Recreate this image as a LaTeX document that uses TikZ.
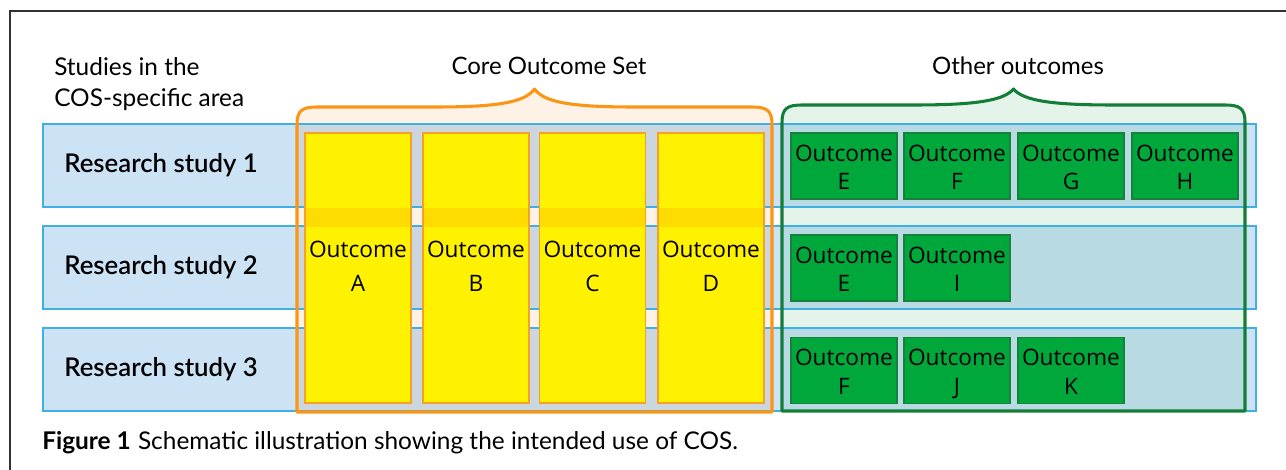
\documentclass[tikz,border=0pt]{standalone}
\usepackage{fontspec}
\setmainfont{Lato}
\newfontfamily\ofont{Open Sans}
\newfontfamily\mfont{Lato Semibold}
\definecolor{rowfill}{RGB}{204,226,245}
\definecolor{rowline}{RGB}{63,176,227}
\definecolor{cosgrey}{RGB}{203,214,222}
\definecolor{cosfill}{RGB}{254,242,230}
\definecolor{cosline}{RGB}{250,150,20}
\definecolor{ylw}{RGB}{255,242,0}
\definecolor{ylwdark}{RGB}{255,220,0}
\definecolor{ylwline}{RGB}{247,160,40}
\definecolor{othfill}{RGB}{229,244,234}
\definecolor{othteal}{RGB}{184,218,226}
\definecolor{othline}{RGB}{20,125,55}
\definecolor{gbox}{RGB}{0,168,60}
\definecolor{gboxline}{RGB}{23,128,58}
\definecolor{framecol}{RGB}{50,50,50}
\tikzset{
  sz/.style 2 args={minimum width={#1*0.75pt}, minimum height={#2*0.75pt}},
  outc/.style={font=\ofont\fontsize{17}{21.5}\selectfont, align=center, inner sep=0pt, text=black, text height=36pt, text depth=0pt},
  ybox/.style={outc, font=\ofont\fontsize{17}{26}\selectfont, draw=ylwline, line width=1.1pt},
  gcell/.style={outc, fill=gbox, draw=gboxline, line width=1.1pt},
  rowlab/.style={font=\mfont\fontsize{19.3}{23}\selectfont, anchor=west, inner sep=0pt},
  title/.style={font=\fontsize{18}{23}\selectfont, anchor=base, inner sep=0pt},
}
\newcommand\oc[1]{Outcome\\#1}
\newcommand\braceshape[5]{% left, right, flat-top y, tip y, bottom y
  ({#1},{#5}) -- ({#1},{#3+17}) .. controls ({#1},{#3+3}) and ({#1+6},{#3}) .. ({#1+20},{#3})
  -- ({(#1+#2)/2-100},{#3}) .. controls ({(#1+#2)/2-40},{#3}) and ({(#1+#2)/2-10},{#3-4}) .. ({(#1+#2)/2},{#4})
  .. controls ({(#1+#2)/2+10},{#3-4}) and ({(#1+#2)/2+40},{#3}) .. ({(#1+#2)/2+100},{#3})
  -- ({#2-20},{#3}) .. controls ({#2-6},{#3}) and ({#2},{#3+3}) .. ({#2},{#3+17}) -- ({#2},{#5}) -- cycle}
\begin{document}
\begin{tikzpicture}[x=0.75pt,y=-0.75pt]
\useasboundingbox (0,0) rectangle (1286,470);
% frame
\draw[framecol, line width=1.2pt] (10,470) -- (10,11) -- (1286,11);
% container fills
\fill[cosfill] \braceshape{297}{772}{107}{89}{412};
\fill[othfill] \braceshape{782}{1245}{105}{89}{411};
% rows
\foreach \t/\b in {124/207, 226/309, 328/411}{
  \fill[rowfill] (43,\t) rectangle (1256,\b);
  \fill[cosgrey] (297,\t) rectangle (772,\b);
  \fill[othteal] (782,\t) rectangle (1245,\b);
  \draw[rowline, line width=1.1pt] (43,\t) rectangle (1256,\b);
}
% container outlines
\draw[cosline, line width=2.3pt, line join=round] \braceshape{297}{772}{107}{89}{412};
\draw[othline, line width=2.3pt, line join=round] \braceshape{782}{1245}{105}{89}{411};
% yellow columns
\foreach \c in {358, 476, 592.5, 711}{
  \fill[ylw] (\c-53,133) rectangle (\c+53,403);
  \fill[ylwdark] (\c-53,208) rectangle (\c+53,227);
}
\node[ybox, sz={106}{270}] (oA) at (358,268) {\oc{A}};
\node[ybox, sz={106}{270}] (oB) at (476,268) {\oc{B}};
\node[ybox, sz={106}{270}] (oC) at (592.5,268) {\oc{C}};
\node[ybox, sz={106}{270}] (oD) at (711,268) {\oc{D}};
% green boxes
\node[gcell, sz={106}{66}] (r1E) at (844,166) {\oc{E}};
\node[gcell, sz={106}{66}] (r1F) at (957,166) {\oc{F}};
\node[gcell, sz={106}{66}] (r1G) at (1071,166) {\oc{G}};
\node[gcell, sz={106}{66}] (r1H) at (1185,166) {\oc{H}};
\node[gcell, sz={106}{66}] (r2E) at (844,268) {\oc{E}};
\node[gcell, sz={106}{66}] (r2I) at (957,268) {\oc{I}};
\node[gcell, sz={106}{66}] (r3F) at (844,370.5) {\oc{F}};
\node[gcell, sz={106}{66}] (r3J) at (957,370.5) {\oc{J}};
\node[gcell, sz={106}{66}] (r3K) at (1071,370.5) {\oc{K}};
% row labels
\node[rowlab] (rs1) at (64,165.5) {Research study 1};
\node[rowlab] (rs2) at (64,267.5) {Research study 2};
\node[rowlab] (rs3) at (64,369.5) {Research study 3};
% headings
\node[font=\fontsize{18.3}{23.25}\selectfont, align=left, anchor=west, inner sep=0pt] (studies) at (54,84) {Studies in the\\COS-specific area};
\node[title] (cos) at (549,75) {Core Outcome Set};
\node[title] (oth) at (1018,75) {Other outcomes};
% caption
\node[font=\fontsize{18.3}{21}\selectfont, anchor=base west, inner sep=0pt] (cap) at (42,450) {\textbf{Figure 1}\hspace{0.3em}Schematic illustration showing the intended use of COS.};
\end{tikzpicture}
\end{document}
